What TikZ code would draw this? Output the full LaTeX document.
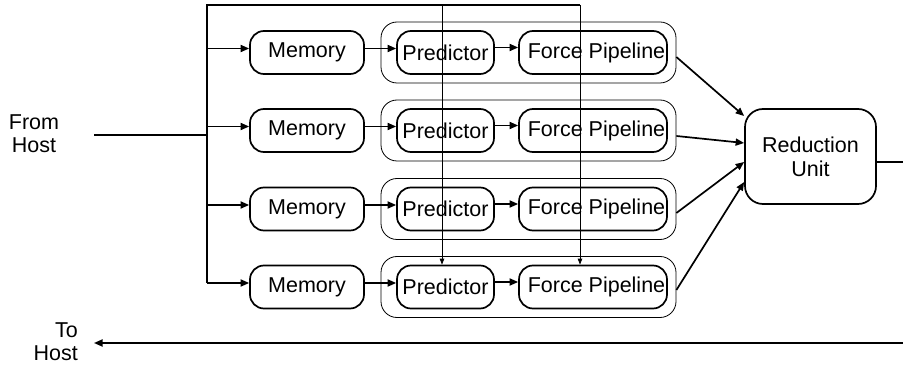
\documentclass[tikz,border=0pt]{standalone}
\usepackage{fontspec}
\setmainfont{Liberation Sans}
\usetikzlibrary{arrows.meta}
\begin{document}
\begin{tikzpicture}[x=1pt,y=-1pt,
  every node/.style={font=\fontsize{21.5}{23}\selectfont},
  blk/.style={draw, line width=1.7pt, rounded corners=14pt, inner sep=0pt, minimum height=43pt},
  grp/.style={draw, line width=0.8pt, rounded corners=16pt, inner sep=0pt, minimum width=295pt, minimum height=61pt},
  conn/.style={line width=1.7pt, -{Triangle[length=8.5pt,width=7pt]}},
  thin/.style={line width=0.8pt, -{Triangle[length=6pt,width=4.5pt]}},
  plain/.style={line width=1.7pt}]
\useasboundingbox (0,0) rectangle (903,366);

% host labels
\node[align=center, inner sep=0pt] (from) at (34,134) {From\\Host};
\node[align=right, inner sep=0pt, anchor=east] (to) at (78,342) {To\\Host};

% four processing rows
\foreach \i/\r in {1/52.5, 2/130.5, 3/209, 4/287} {
  \node[grp] (g\i) at (528.5,\r) {};
  \node[blk, minimum width=114pt] (m\i) at (307,\r) {Memory\hspace{5pt}};
  \node[blk, minimum width=97pt] (p\i) at (445.5,\r) {Predictor\hspace{9pt}};
  \node[blk, minimum width=148pt] (f\i) at (593,\r) {\hspace{7pt}Force Pipeline};
}

% reduction unit
\node[draw, line width=1.7pt, rounded corners=18pt, minimum width=131pt, minimum height=95pt,
      align=center, inner sep=0pt, font=\fontsize{21.5}{24}\selectfont] (red) at (810.5,156.5)
      {\raisebox{-3pt}{Reduction}\\\raisebox{-3pt}{Unit}};

% bus coordinates
\coordinate (btop) at (207,5);
\coordinate (bbot) at (207,283);
\coordinate (hostin) at (94,135);
\coordinate (busin) at (207,135);
\coordinate (ptop) at (442,5);
\coordinate (ftop) at (580,5);
\coordinate (rout) at (903,162);
\coordinate (rback) at (903,343);
\coordinate (tohost) at (94,343);

% input bus
\draw[plain] (hostin) -- (busin);
\draw[plain] (bbot) -- (btop) -- (ftop);
\foreach \i in {1,...,4} {
  \coordinate (mi\i) at ([yshift=4pt]m\i.west);
  \draw[conn] (bbot |- mi\i) -- (mi\i);
  \draw[conn] ([yshift=4pt]m\i.east) -- ([yshift=4pt]p\i.west);
  \draw[conn] ([yshift=5pt]p\i.east) -- ([yshift=5pt]f\i.west);
}

% broadcast lines to the last row
\draw[thin] (ptop) -- (ptop |- p4.north);
\draw[thin] (ftop) -- (ftop |- f4.north);

% results into the reduction unit
\draw[conn] ([yshift=-4.5pt]g1.east) -- ([yshift=40.5pt]red.west);
\draw[conn] ([yshift=-5.5pt]g2.east) -- ([yshift=13.5pt]red.west);
\draw[conn] ([yshift=-4pt]g3.east) -- ([yshift=-5.5pt]red.west);
\draw[conn] ([yshift=-3pt]g4.east) -- ([yshift=-25.5pt]red.west);

% output back to the host
\draw[plain] (red.east |- rout) -- (rout);
\draw[conn] (rback) -- (tohost);
\end{tikzpicture}
\end{document}
